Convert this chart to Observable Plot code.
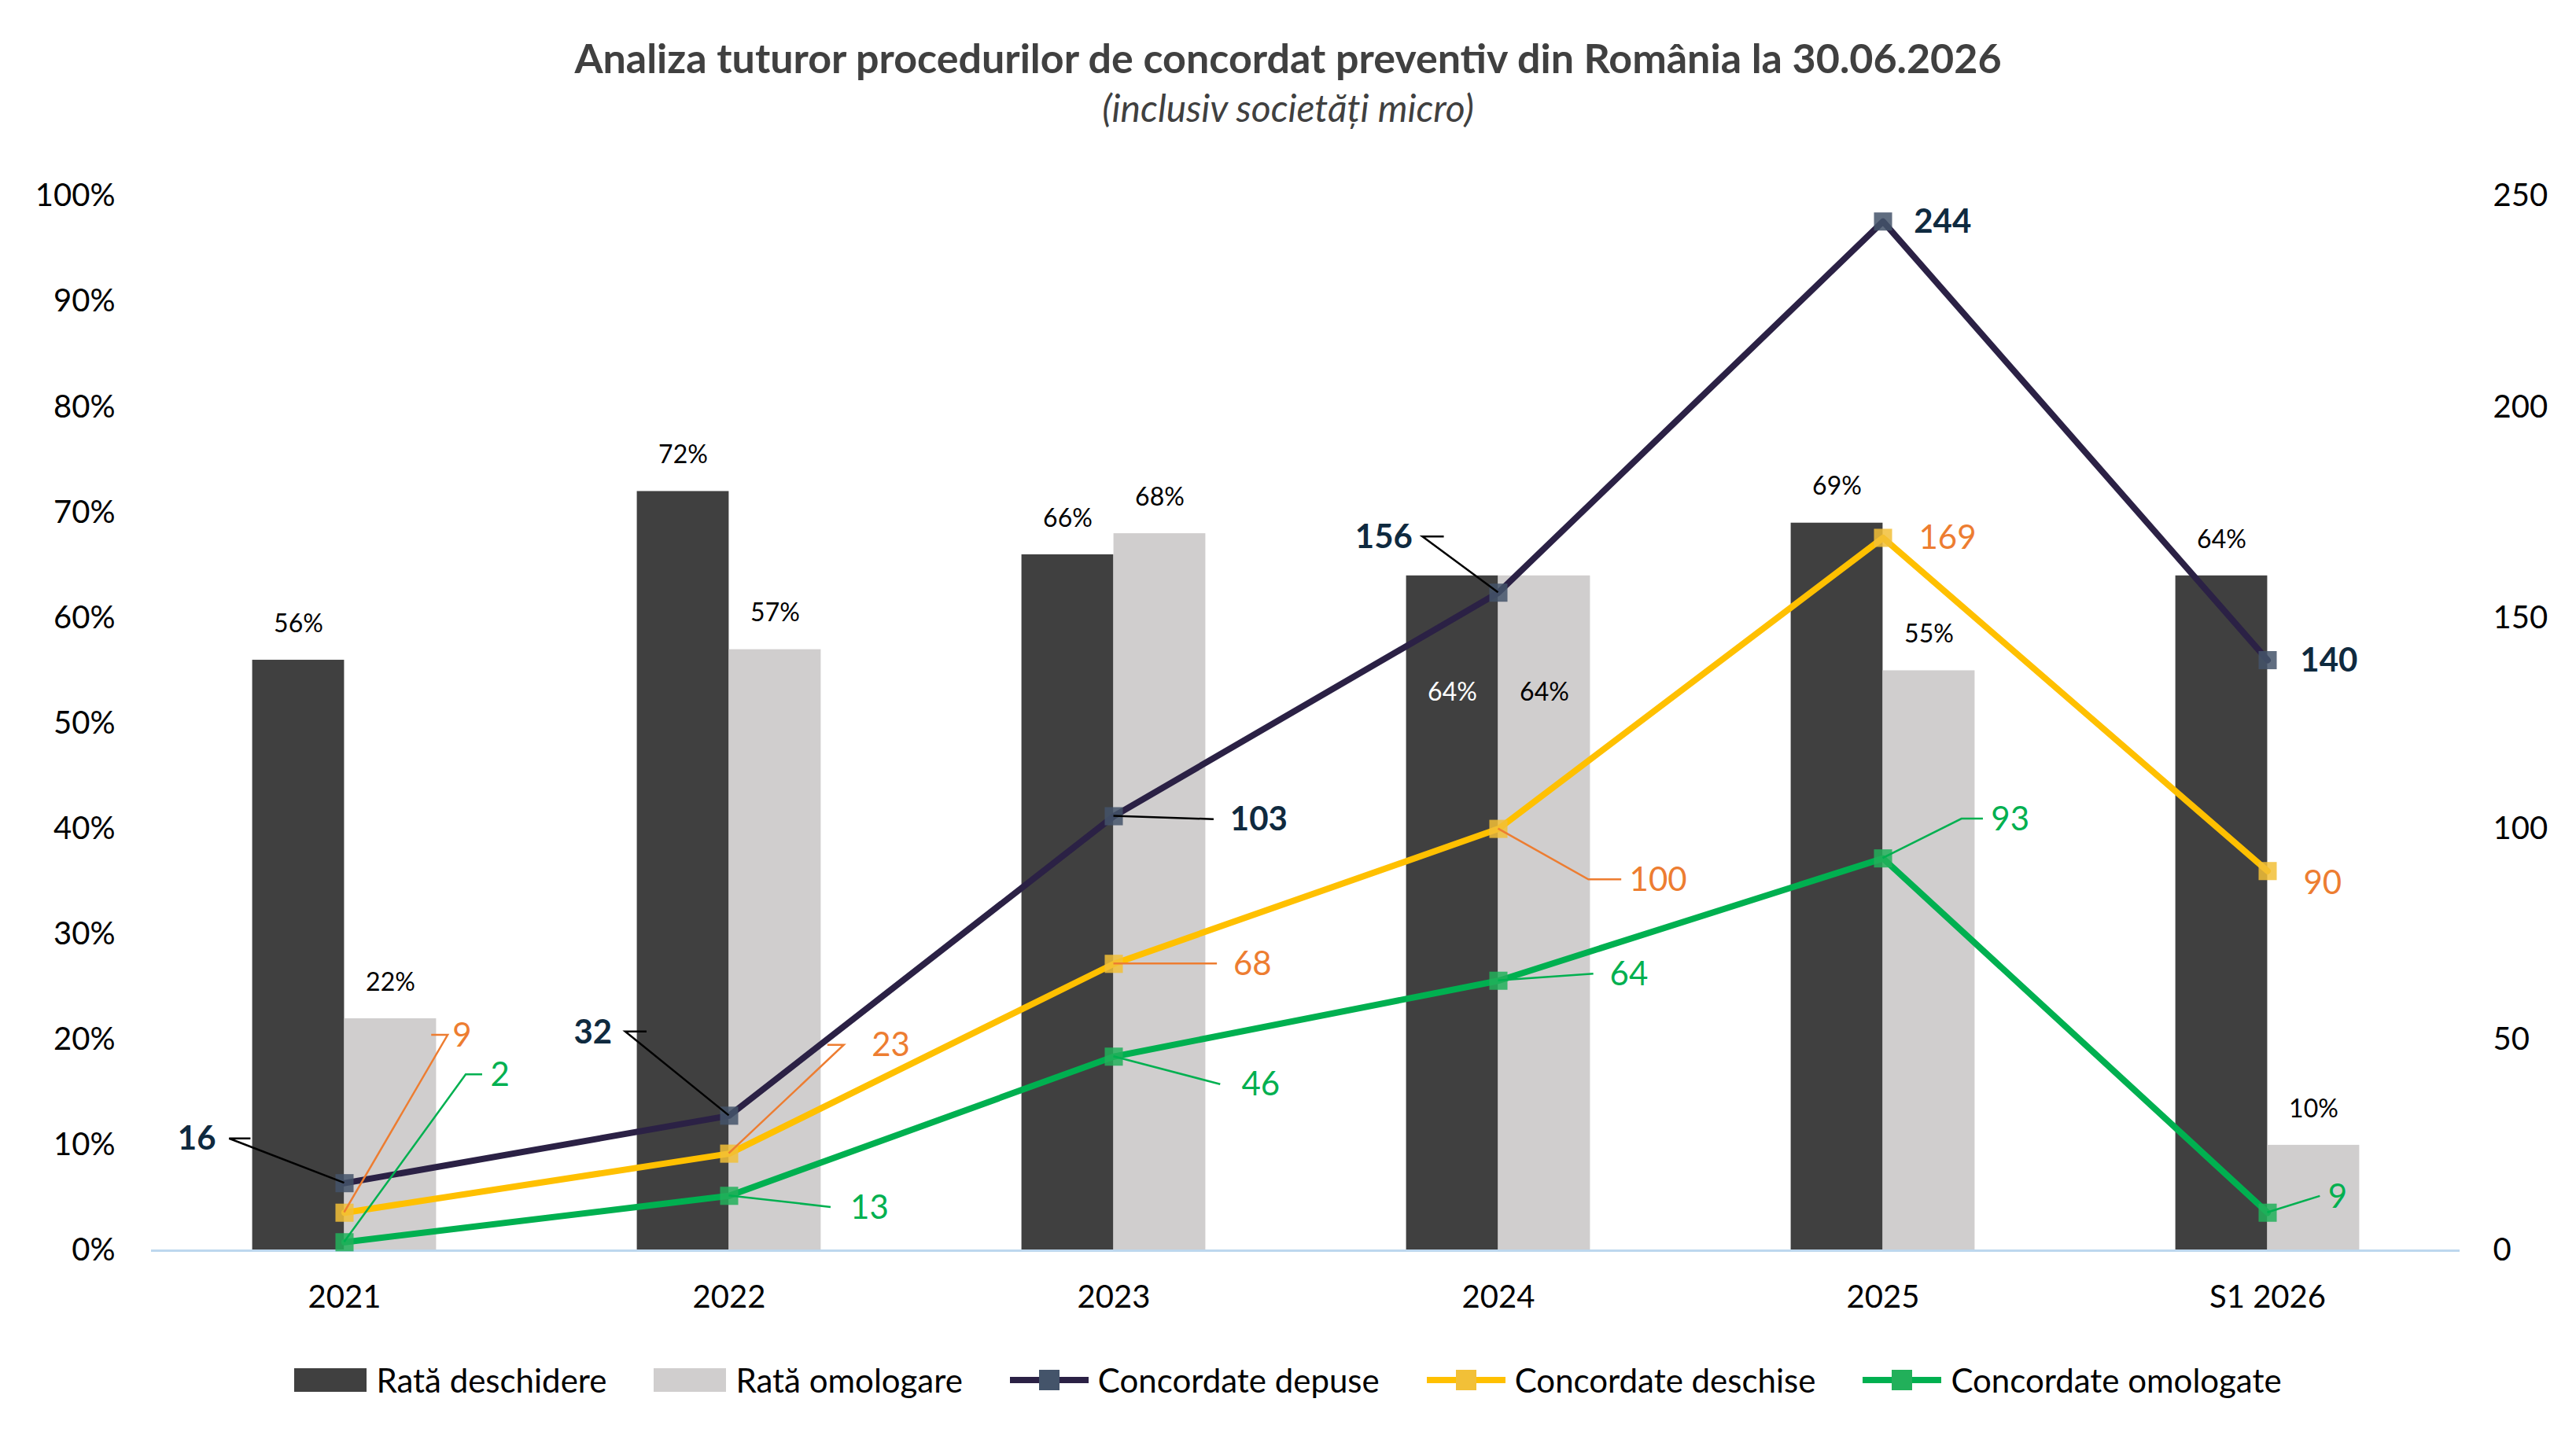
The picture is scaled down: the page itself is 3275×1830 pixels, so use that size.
<!DOCTYPE html>
<html><head><meta charset="utf-8">
<script src="https://cdn.jsdelivr.net/npm/d3@7"></script>
<script src="https://cdn.jsdelivr.net/npm/@observablehq/plot@0.6"></script>
<style>
body{margin:0;background:#fff;font-family:Lato,"Open Sans",sans-serif;width:3275px;}
#t{height:190px;text-align:center;}
#t .a{font-weight:bold;font-size:52px;color:#404040;padding-top:42px;line-height:62px;}
#t .b{font-style:italic;font-size:48px;color:#404040;line-height:66px;}
#lg{display:flex;justify-content:center;gap:60px;font-size:42px;color:#000;margin-top:30px;align-items:center;}
#lg span{display:flex;align-items:center;gap:12px;}
</style></head><body>
<div id="t"><div class="a">Analiza tuturor procedurilor de concordat preventiv din România la 30.06.2026</div><div class="b">(inclusiv societăți micro)</div></div>
<div id="c"></div>
<div id="lg"></div>
<script>
const categories=["2021","2022","2023","2024","2025","S1 2026"];
const rataDeschidere=[56,72,66,64,69,64];
const rataOmologare=[22,57,68,64,55,10];
const depuse=[16,32,103,156,244,140];
const deschise=[9,23,68,100,169,90];
const omologate=[2,13,46,64,93,9];
const leftTicks=[0,0.1,0.2,0.3,0.4,0.5,0.6,0.7,0.8,0.9,1];
const rightTicks=[0,50,100,150,200,250];
// label layout (display px offsets): [labelDx, labelDy, anchor, leader points...]
const labDep=[[-78,-27,"end",[[-70,-27],[-57,-27]]],[-71,-51,"end",[[-63,-51],[-50,-51]]],[71,2,"start",[[61,2]]],[-52,-34,"end",[[-46,-34],[-33,-34]]],[19,0,"start",[]],[20,0,"start",[]]];
const labDes=[[66,-108,"start",[[63,-108],[53,-108]]],[87,-66,"start",[[70,-66],[60,-66]]],[73,0,"start",[[63,0]]],[80,31,"start",[[55,31],[75,31]]],[22,0,"start",[]],[22,7,"start",[]]];
const labOmo=[[89,-102,"start",[[74,-102],[84,-102]]],[74,7,"start",[[62,7]]],[78,17,"start",[[65,17]]],[68,-4,"start",[[58,-4]]],[66,-24,"start",[[48,-24],[61,-24]]],[37,-10,"start",[[32,-10]]]];
const k=2.089;
const rows=categories.map((c,i)=>({c,rd:rataDeschidere[i]/100,ro:rataOmologare[i]/100,dep:depuse[i]/250,des:deschise[i]/250,omo:omologate[i]/250}));
const W=3275,H=1510,ML=192,MR=148;
const bw=(W-ML-MR)/6, barW=56*k;
const cDep="#2B2145",cDes="#FFC000",cOmo="#00B050";
function labels(index,scales){
  const g=d3.create("svg:g");
  const sets=[[depuse,labDep,"#0F2A3F","bold",true],[deschise,labDes,"#ED7D31","normal",false],[omologate,labOmo,"#00B050","normal",false]];
  for(const [vals,lab,col,fw,isDep] of sets){
    vals.forEach((v,i)=>{
      const px=scales.x(categories[i])+scales.x.bandwidth()/2, py=scales.y(v/250);
      const L=lab[i];
      if(L[3].length){
        const pts=[[px,py],...L[3].map(p=>[px+p[0]*k,py+p[1]*k])];
        g.append("path").attr("d",d3.line()(pts)).attr("fill","none").attr("stroke",isDep?"#000":col).attr("stroke-width",2.5);
      }
      g.append("text").attr("x",px+L[0]*k).attr("y",py+L[1]*k).attr("dy","0.35em").attr("text-anchor",L[2])
        .attr("fill",col).attr("font-weight",fw).attr("font-size",42).text(v);
    });
  }
  return g.node();
}
const markSq=(col,fill)=>Plot.dot(rows,{x:"c",y:col,symbol:"square",r:13,fill,fillOpacity:0.85});
const chart=Plot.plot({
  width:W,height:H,marginLeft:ML,marginRight:MR,marginTop:59,marginBottom:110,
  style:{fontFamily:"Lato,'Open Sans',sans-serif",fontSize:"40px",color:"#000",background:"#fff"},
  x:{domain:categories,padding:0,axis:null},
  y:{domain:[0,1],axis:null},
  marks:[
    Plot.axisY({ticks:leftTicks,tickFormat:d=>Math.round(d*100)+"%",tickSize:0,tickPadding:46,fontSize:40,anchor:"left"}),
    Plot.axisY({ticks:rightTicks.map(d=>d/250),tickFormat:d=>Math.round(d*250),tickSize:0,tickPadding:42,fontSize:40,anchor:"right",textAnchor:"start"}),
    Plot.axisX({tickSize:0,tickPadding:44,fontSize:40,label:null}),
    Plot.barY(rows,{x:"c",y:"rd",fill:"#404040",insetLeft:bw/2-barW,insetRight:bw/2}),
    Plot.barY(rows,{x:"c",y:"ro",fill:"#D0CECE",insetLeft:bw/2,insetRight:bw/2-barW}),
    Plot.ruleY([0],{stroke:"#BDD7EE",strokeWidth:3}),
    Plot.text(rows.filter(d=>d.c!=="2024"),{x:"c",y:"rd",text:d=>Math.round(d.rd*100)+"%",dx:-barW/2,dy:-46,fontSize:32}),
    Plot.text(rows.filter(d=>d.c!=="2024"),{x:"c",y:"ro",text:d=>Math.round(d.ro*100)+"%",dx:barW/2,dy:-46,fontSize:32}),
    Plot.text(rows.filter(d=>d.c==="2024"),{x:"c",y:"rd",text:d=>Math.round(d.rd*100)+"%",dx:-barW/2,dy:148,fontSize:32,fill:"#fff"}),
    Plot.text(rows.filter(d=>d.c==="2024"),{x:"c",y:"ro",text:d=>Math.round(d.ro*100)+"%",dx:barW/2,dy:148,fontSize:32,fill:"#000"}),
    Plot.line(rows,{x:"c",y:"dep",stroke:cDep,strokeWidth:8}),
    Plot.line(rows,{x:"c",y:"des",stroke:cDes,strokeWidth:8}),
    Plot.line(rows,{x:"c",y:"omo",stroke:cOmo,strokeWidth:8}),
    markSq("dep","#44546A"),markSq("des","#F2C037"),markSq("omo","#22B05A"),
    labels
  ]
});
document.getElementById("c").appendChild(chart);
const items=[["Rată deschidere","bar","#404040"],["Rată omologare","bar","#D0CECE"],["Concordate depuse","line",cDep,"#44546A"],["Concordate deschise","line",cDes,"#F2C037"],["Concordate omologate","line",cOmo,"#22B05A"]];
const lg=document.getElementById("lg");
for(const [n,t,c,m] of items){
  const s=document.createElement("span");
  s.innerHTML=t==="bar"?`<svg width="92" height="30"><rect x="0" y="0" width="92" height="30" fill="${c}"/></svg>${n}`:
   `<svg width="100" height="30"><line x1="0" x2="100" y1="15" y2="15" stroke="${c}" stroke-width="8"/><rect x="37" y="2" width="26" height="26" fill="${m}"/></svg>${n}`;
  lg.appendChild(s);
}
</script></body></html>
